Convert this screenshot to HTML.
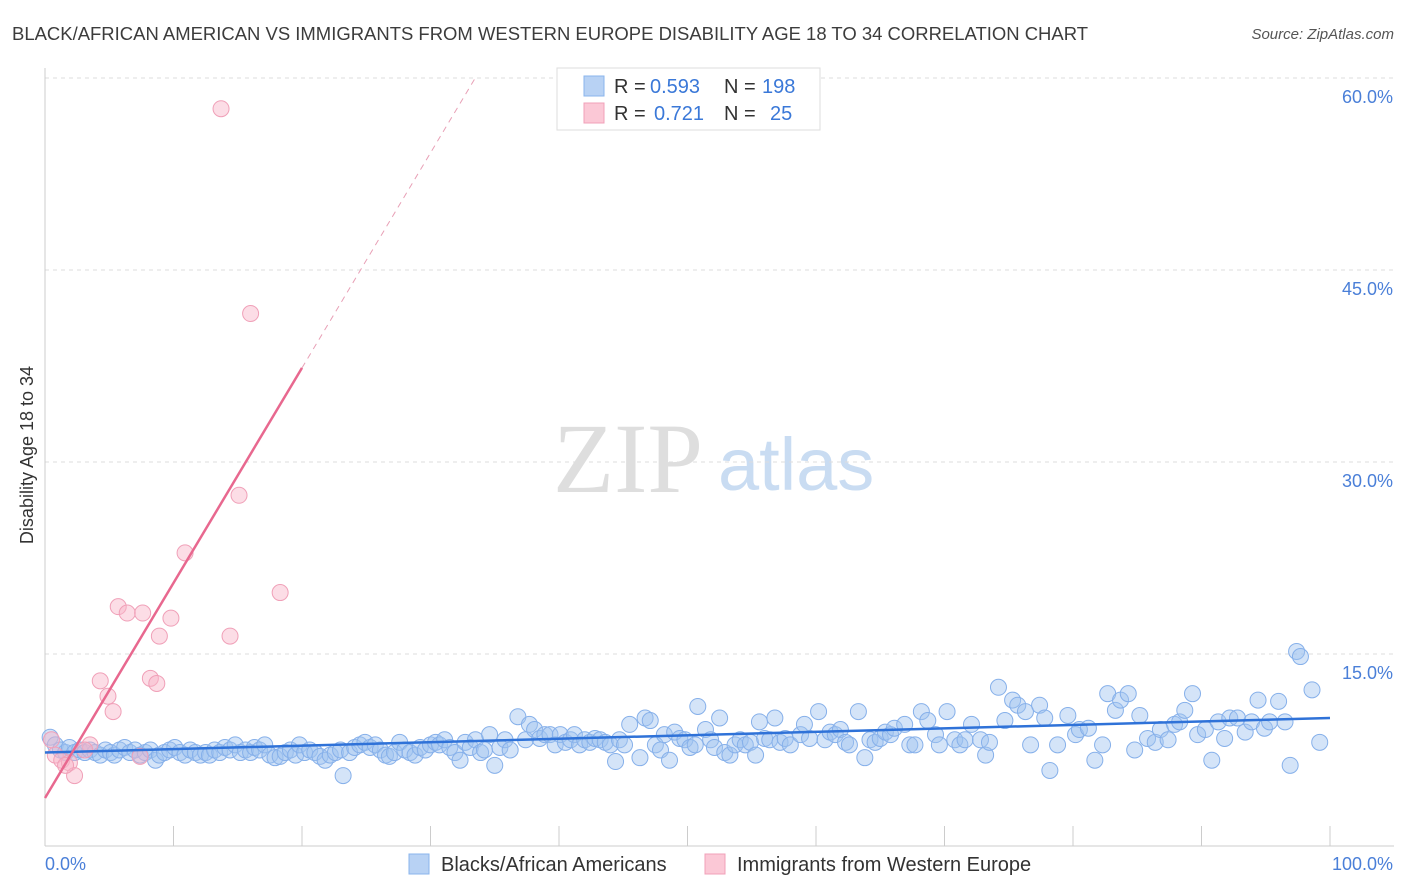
<!DOCTYPE html>
<html><head><meta charset="utf-8">
<style>
body{margin:0;background:#fff;font-family:"Liberation Sans",sans-serif;}
svg{display:block}
</style></head>
<body>
<svg id="chart" width="1406" height="892">
<text x="12" y="40" font-size="18.5" fill="#3c3c3c" textLength="1076" lengthAdjust="spacingAndGlyphs">BLACK/AFRICAN AMERICAN VS IMMIGRANTS FROM WESTERN EUROPE DISABILITY AGE 18 TO 34 CORRELATION CHART</text>
<text x="1394" y="39" font-size="15" fill="#555" font-style="italic" text-anchor="end">Source: ZipAtlas.com</text>
<g>
<text x="553" y="492" font-family="Liberation Serif,serif" font-size="100" fill="#dedede">ZIP</text>
<text x="718" y="490" font-size="74" fill="#c9dcf2">atlas</text>
</g>
<g id="grid"></g>
<line x1="45" y1="68" x2="45" y2="846" stroke="#ccc"/>
<line x1="45" y1="846" x2="1394" y2="846" stroke="#ccc"/>
<g id="xticks"></g>
<g id="ylabels"></g>
<text transform="translate(33,455) rotate(-90)" text-anchor="middle" font-size="18" fill="#333">Disability Age 18 to 34</text>
<text x="45" y="870" font-size="18" fill="#4a7fd8">0.0%</text>
<text x="1393" y="870" font-size="18" fill="#4a7fd8" text-anchor="end">100.0%</text>
<g id="bluepts"></g>
<g id="pinkpts"></g>
<g id="trends"></g>
<g>
<rect x="557" y="68" width="263" height="62" fill="#fff" stroke="#ddd"/>
<rect x="584" y="76" width="20" height="20" fill="#b8d2f4" stroke="#8ab4ec"/>
<rect x="584" y="103" width="20" height="20" fill="#fbc8d6" stroke="#f0a0b8"/>
<text y="93" font-size="20" fill="#333"><tspan x="614">R =</tspan><tspan x="650" fill="#3a78d8">0.593</tspan><tspan x="724">N =</tspan><tspan x="762" fill="#3a78d8">198</tspan></text>
<text y="120" font-size="20" fill="#333"><tspan x="614">R =</tspan><tspan x="654" fill="#3a78d8">0.721</tspan><tspan x="724">N =</tspan><tspan x="770" fill="#3a78d8">25</tspan></text>
</g>
<g>
<rect x="409" y="854" width="20" height="20" fill="#b8d2f4" stroke="#8ab4ec"/>
<text x="441" y="871" font-size="20" fill="#333">Blacks/African Americans</text>
<rect x="705" y="854" width="20" height="20" fill="#fbc8d6" stroke="#f0a0b8"/>
<text x="737" y="871" font-size="20" fill="#333">Immigrants from Western Europe</text>
</g>
</svg>
<script>
const yTicks=[15,30,45,60];
const yTickLabels=["15.0%","30.0%","45.0%","60.0%"];
const xTicks=[0,10,20,30,40,50,60,70,80,90,100];
const blueX=[0.4,0.8,1.2,1.6,1.9,2.3,2.7,3.1,3.5,3.9,4.3,4.7,5.1,5.4,5.8,6.2,6.6,7.0,7.4,7.8,8.2,8.6,8.9,9.3,9.7,10.1,10.5,10.9,11.3,11.7,12.1,12.5,12.8,13.2,13.6,14.0,14.4,14.8,15.2,15.6,16.0,16.3,16.7,17.1,17.5,17.9,18.3,18.7,19.1,19.5,19.8,20.2,20.6,21.0,21.4,21.8,22.2,22.6,23.0,23.2,23.7,24.1,24.5,24.9,25.3,25.7,26.1,26.5,26.8,27.2,27.6,28.0,28.4,28.8,29.2,29.6,30.0,30.4,30.7,31.1,31.5,31.9,32.3,32.7,33.1,33.5,33.9,34.2,34.6,35.0,35.4,35.8,36.2,36.8,37.4,37.7,38.1,38.5,38.9,39.3,39.7,40.1,40.5,40.9,41.2,41.6,42.0,42.4,42.8,43.2,43.6,44.0,44.4,44.7,45.1,45.5,46.3,46.7,47.1,47.5,47.9,48.2,48.6,49.0,49.4,49.8,50.2,50.6,50.8,51.4,51.8,52.1,52.5,52.9,53.3,53.7,54.1,54.5,54.9,55.3,55.6,56.0,56.4,56.8,57.2,57.6,58.0,58.8,59.1,59.5,60.2,60.7,61.1,61.5,61.9,62.3,62.6,63.3,63.8,64.2,64.6,65.0,65.4,65.8,66.1,66.9,67.3,67.7,68.2,68.7,69.3,69.6,70.2,70.8,71.2,71.6,72.1,72.8,73.2,73.5,74.2,74.7,75.3,75.7,76.3,76.7,77.4,77.8,78.2,78.8,79.6,80.2,80.5,81.2,81.7,82.3,82.7,83.3,83.7,84.3,84.8,85.2,85.8,86.4,86.8,87.4,87.9,88.3,88.7,89.3,89.7,90.3,90.8,91.3,91.8,92.2,92.8,93.4,93.9,94.4,94.9,95.3,96.0,96.5,96.9,97.4,97.7,98.6,99.2];
const blueY=[8.5,7.9,7.5,7.3,7.7,7.3,7.5,7.3,7.5,7.3,7.1,7.5,7.3,7.1,7.5,7.7,7.3,7.5,7.1,7.3,7.5,6.7,7.1,7.3,7.5,7.7,7.3,7.1,7.5,7.3,7.1,7.3,7.1,7.5,7.3,7.7,7.5,7.9,7.3,7.5,7.3,7.7,7.5,7.9,7.1,6.9,7.0,7.3,7.5,7.1,7.9,7.3,7.5,7.3,7.0,6.7,7.1,7.3,7.5,5.5,7.3,7.7,7.9,8.1,7.7,7.9,7.5,7.1,7.0,7.3,8.1,7.5,7.3,7.1,7.7,7.5,7.9,8.1,7.9,8.3,7.7,7.3,6.7,8.1,7.7,8.3,7.3,7.5,8.7,6.3,7.7,8.3,7.5,10.1,8.3,9.5,9.1,8.4,8.7,8.7,7.9,8.7,8.1,8.3,8.7,7.9,8.3,8.1,8.4,8.3,8.1,7.9,6.6,8.3,7.9,9.5,6.9,10.0,9.8,7.9,7.5,8.7,6.7,8.9,8.4,8.3,7.7,7.9,10.9,9.1,8.3,7.7,10.0,7.3,7.1,7.9,8.3,7.9,8.1,7.1,9.7,8.4,8.3,10.0,8.1,8.4,7.9,8.7,9.5,8.4,10.5,8.3,8.9,8.7,9.1,8.1,7.9,10.5,6.9,8.3,8.1,8.4,8.9,8.7,9.2,9.5,7.9,7.9,10.5,9.8,8.7,7.9,10.5,8.3,7.9,8.3,9.5,8.3,7.1,8.1,12.4,9.8,11.4,11.0,10.5,7.9,11.0,10.0,5.9,7.9,10.2,8.7,9.1,9.2,6.7,7.9,11.9,10.6,11.4,11.9,7.5,10.2,8.4,8.1,9.1,8.3,9.5,9.7,10.6,11.9,8.7,9.1,6.7,9.7,8.4,10.0,10.0,8.9,9.7,11.4,9.2,9.7,11.3,9.7,6.3,15.2,14.8,12.2,8.1];
const pinkX=[13.7,16.0,15.1,10.9,18.3,5.7,6.4,7.6,9.8,8.9,14.4,4.3,8.2,8.7,4.9,5.3,0.5,3.5,0.8,1.3,1.9,2.3,7.4,3.1,1.6];
const pinkY=[57.6,41.6,27.4,22.9,19.8,18.7,18.2,18.2,17.8,16.4,16.4,12.9,13.1,12.7,11.7,10.5,8.3,7.9,7.1,6.7,6.5,5.5,7.0,7.5,6.3];
const blueTrend=[7.3,10.0];
const pinkTrend=[3.75,1.68];

const NS="http://www.w3.org/2000/svg";
const X=v=>45+v*12.85;
const Y=v=>846-v*12.8;
function mk(tag,attrs,parent){const e=document.createElementNS(NS,tag);for(const k in attrs)e.setAttribute(k,attrs[k]);document.getElementById(parent).appendChild(e);return e;}
yTicks.forEach((t,i)=>{
  const l=mk('line',{x1:45,x2:1394,y1:Y(t),y2:Y(t),stroke:'#ddd','stroke-dasharray':'4,4'},'grid');
  
  
  const tx=mk('text',{x:1393,y:Y(t)+25,'font-size':18,fill:'#4a7fd8','text-anchor':'end'},'ylabels');
  tx.textContent=yTickLabels[i];
  
  
});
xTicks.forEach(t=>{
  const l=mk('line',{x1:X(t),x2:X(t),y1:826,y2:846,stroke:'#ccc'},'xticks');
  
  
});
blueX.forEach((x,i)=>{
  const c=mk('circle',{cx:X(x),cy:Y(blueY[i]),r:8,fill:'rgba(160,196,240,0.45)',stroke:'#86b0ea','stroke-width':1},'bluepts');
  
  
});
pinkX.forEach((x,i)=>{
  const c=mk('circle',{cx:X(x),cy:Y(pinkY[i]),r:8,fill:'rgba(248,180,200,0.45)',stroke:'#f0a0b8','stroke-width':1},'pinkpts');
  
  
});
const bt=mk('line',{x1:X(0),y1:Y(blueTrend[0]),x2:X(100),y2:Y(blueTrend[1]),stroke:'#2f72d8','stroke-width':2.5},'trends');


const pEnd=20, pMax=(60-pinkTrend[0])/pinkTrend[1];
const pt=mk('line',{x1:X(0),y1:Y(pinkTrend[0]),x2:X(pEnd),y2:Y(pinkTrend[0]+pinkTrend[1]*pEnd),stroke:'#e8688f','stroke-width':2.5},'trends');


const pd=mk('line',{x1:X(pEnd),y1:Y(pinkTrend[0]+pinkTrend[1]*pEnd),x2:X(pMax),y2:Y(60),stroke:'#e8a0b6','stroke-width':1,'stroke-dasharray':'6,5'},'trends');


</script>
</body></html>
